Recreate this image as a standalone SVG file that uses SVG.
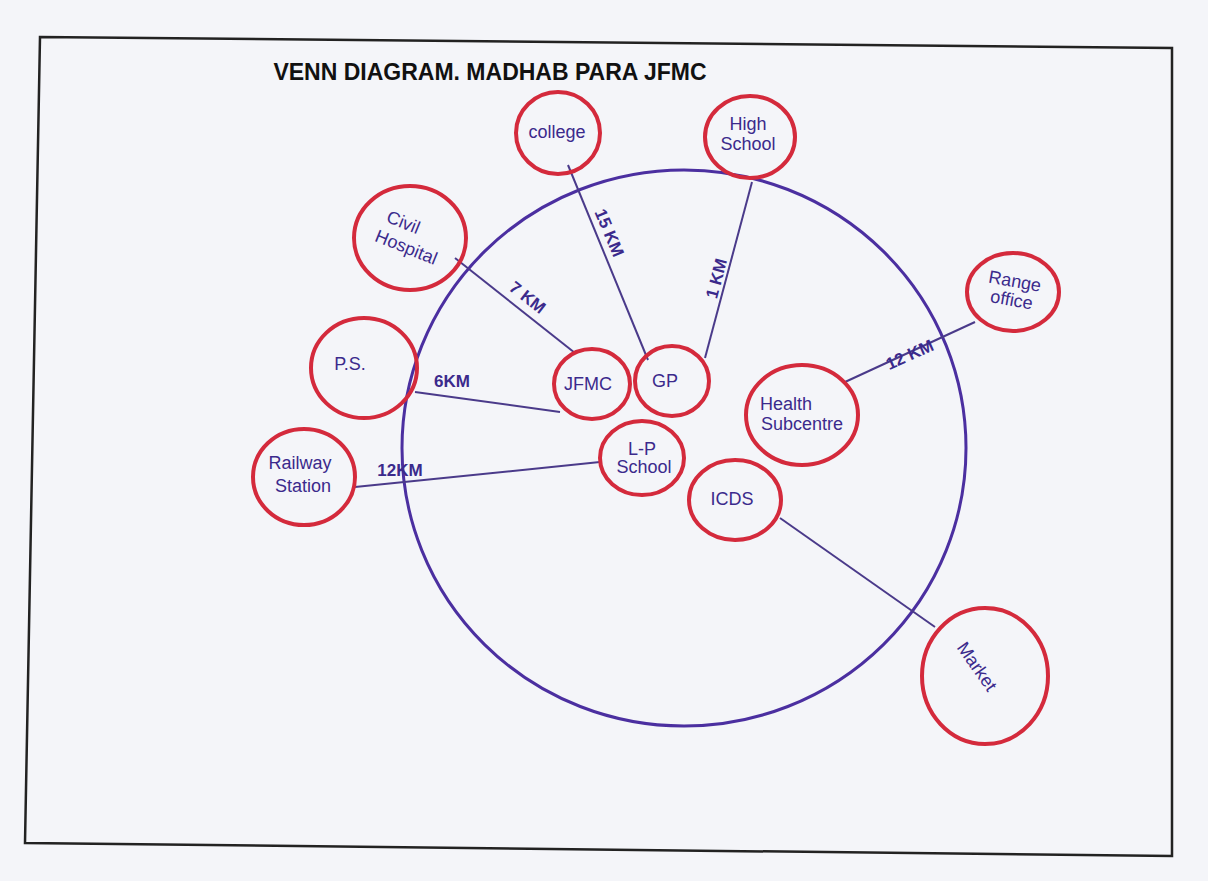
<svg xmlns="http://www.w3.org/2000/svg" width="1208" height="881" viewBox="0 0 1208 881">
<style>
.node{fill:none;stroke:#d42a3c;stroke-width:4}
.lbl{font-family:"Liberation Sans",Arial,sans-serif;fill:#3b2a8c;font-size:18px;text-anchor:middle}
.dist{font-family:"Liberation Sans",Arial,sans-serif;fill:#3b2a8c;font-size:17px;font-weight:bold;text-anchor:middle}
.con{stroke:#4a3a8a;stroke-width:2;fill:none}
</style>
<rect width="1208" height="881" fill="#f4f5f9"/>
<polygon points="40,37 1172,48 1172,856 25,843" fill="none" stroke="#222" stroke-width="2.5"/>
<text x="490" y="80" font-family="Liberation Sans,Arial,sans-serif" font-size="23" font-weight="bold" fill="#111" text-anchor="middle">VENN DIAGRAM. MADHAB PARA JFMC</text>
<g id="boundary"><ellipse cx="684" cy="448" rx="282" ry="278" fill="none" stroke="#4b2fa0" stroke-width="3"/></g>
<g id="connectors">
<line class="con" x1="568" y1="165" x2="648" y2="360"/>
<line class="con" x1="752" y1="182" x2="705" y2="358"/>
<line class="con" x1="455" y1="258" x2="575" y2="353"/>
<line class="con" x1="415" y1="392" x2="560" y2="412"/>
<line class="con" x1="355" y1="487" x2="600" y2="462"/>
<line class="con" x1="845" y1="382" x2="975" y2="322"/>
<line class="con" x1="780" y1="518" x2="935" y2="627"/>
<text class="dist" transform="translate(604,235) rotate(67)">15 KM</text>
<text class="dist" transform="translate(722,280) rotate(-75)">1 KM</text>
<text class="dist" transform="translate(524,302) rotate(38)">7 KM</text>
<text class="dist" x="452" y="387">6KM</text>
<text class="dist" x="400" y="476">12KM</text>
<text class="dist" transform="translate(912,360) rotate(-24)">12 KM</text>
</g>
<g id="college"><ellipse class="node" cx="558" cy="133" rx="42" ry="41"/><text class="lbl" x="557" y="138" font-size="16">college</text></g>
<g id="high-school"><ellipse class="node" cx="750" cy="137" rx="45" ry="41"/><text class="lbl" x="748" y="130">High</text><text class="lbl" x="748" y="150">School</text></g>
<g id="civil-hospital"><ellipse class="node" cx="410" cy="238" rx="56" ry="52"/><g transform="rotate(22 410 238)"><text class="lbl" x="398" y="232">Civil</text><text class="lbl" x="410" y="254">Hospital</text></g></g>
<g id="ps"><ellipse class="node" cx="364" cy="368" rx="53" ry="50"/><text class="lbl" x="350" y="370" font-size="20">P.S.</text></g>
<g id="railway-station"><ellipse class="node" cx="304" cy="477" rx="51" ry="48"/><text class="lbl" x="300" y="469">Railway</text><text class="lbl" x="303" y="492">Station</text></g>
<g id="jfmc"><ellipse class="node" cx="592" cy="384" rx="38" ry="35"/><text class="lbl" x="588" y="390">JFMC</text></g>
<g id="gp"><ellipse class="node" cx="672" cy="381" rx="37" ry="35"/><text class="lbl" x="665" y="387" font-size="20">GP</text></g>
<g id="lp-school"><ellipse class="node" cx="642" cy="458" rx="42" ry="37"/><text class="lbl" x="642" y="455">L-P</text><text class="lbl" x="644" y="473" font-size="15">School</text></g>
<g id="health-subcentre"><ellipse class="node" cx="802" cy="415" rx="56" ry="50"/><text class="lbl" x="786" y="410">Health</text><text class="lbl" x="802" y="430">Subcentre</text></g>
<g id="icds"><ellipse class="node" cx="735" cy="500" rx="46" ry="40"/><text class="lbl" x="732" y="505" font-size="19">ICDS</text></g>
<g id="range-office"><ellipse class="node" cx="1013" cy="292" rx="46" ry="39"/><g transform="rotate(10 1013 292)"><text class="lbl" x="1013" y="287" font-size="16">Range</text><text class="lbl" x="1013" y="306" font-size="16">office</text></g></g>
<g id="market"><ellipse class="node" cx="985" cy="676" rx="63" ry="68"/><text class="lbl" transform="translate(972,670) rotate(55)" font-size="22">Market</text></g>
</svg>
